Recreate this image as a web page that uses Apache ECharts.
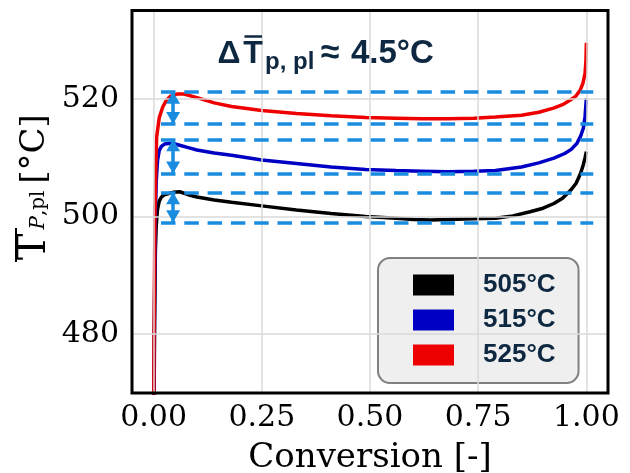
<!DOCTYPE html>
<html>
<head>
<meta charset="utf-8">
<script src="https://cdn.jsdelivr.net/npm/echarts@6/dist/echarts.min.js"></script>
<style>
  html, body { margin: 0; padding: 0; background: #ffffff; }
  #chart { width: 630px; height: 473px; }
</style>
</head>
<body>
<div id="chart"></div>
<script>
// Mean particle temperature over conversion for three set-point temperatures

const seriesNames = ['505°C', '515°C', '525°C'];
const seriesColors = ['#000000', '#0000c4', '#ee0000'];

// 505 °C run
const conv505 = [0.000, 0.002, 0.004, 0.006, 0.009, 0.013, 0.018, 0.025, 0.035, 0.045, 0.060, 0.080,
  0.100, 0.140, 0.180, 0.250, 0.330, 0.410, 0.490, 0.560, 0.600, 0.640, 0.680, 0.740, 0.790,
  0.830, 0.870, 0.900, 0.925, 0.945, 0.963, 0.976, 0.986, 0.993, 0.997, 1.000];
const temp505 = [455.0, 480.0, 494.0, 498.5, 501.2, 502.6, 503.3, 503.7, 503.9, 504.1, 504.2, 503.7,
  503.3, 502.8, 502.4, 501.8, 501.1, 500.5, 500.0, 499.7, 499.5, 499.4, 499.5, 499.6, 499.7,
  500.1, 500.8, 501.4, 502.2, 503.1, 504.4, 505.6, 507.2, 508.8, 510.0, 511.0];

// 515 °C run
const conv515 = [0.000, 0.002, 0.004, 0.006, 0.009, 0.013, 0.018, 0.025, 0.035, 0.045, 0.060, 0.080,
  0.100, 0.140, 0.180, 0.250, 0.330, 0.410, 0.490, 0.560, 0.620, 0.680, 0.740, 0.790, 0.850,
  0.890, 0.925, 0.950, 0.965, 0.978, 0.987, 0.993, 0.997, 1.000];
const temp515 = [455.0, 485.0, 500.0, 506.0, 509.5, 511.2, 511.9, 512.3, 512.4, 512.4, 512.1, 511.7,
  511.3, 510.8, 510.4, 509.6, 509.0, 508.4, 508.0, 507.8, 507.7, 507.6, 507.7, 507.8, 508.4,
  509.1, 509.9, 510.7, 511.4, 512.4, 513.7, 515.0, 517.0, 520.1];

// 525 °C run
const conv525 = [0.000, 0.001, 0.003, 0.005, 0.007, 0.013, 0.021, 0.030, 0.040, 0.055, 0.070, 0.100,
  0.140, 0.180, 0.250, 0.330, 0.410, 0.490, 0.560, 0.620, 0.680, 0.740, 0.790, 0.850, 0.890,
  0.924, 0.945, 0.963, 0.975, 0.986, 0.992, 0.997, 0.999, 1.000];
const temp525 = [455.0, 480.0, 500.0, 508.0, 513.5, 516.8, 518.6, 519.8, 520.5, 520.8, 520.8, 520.2,
  519.3, 518.7, 518.0, 517.5, 517.1, 516.8, 516.7, 516.6, 516.6, 516.7, 516.9, 517.2, 517.7,
  518.4, 519.0, 519.8, 520.4, 521.5, 522.6, 524.3, 526.5, 529.5];

const convData = [conv505, conv515, conv525];
const tempData = [temp505, temp515, temp525];

// Axis ticks
const xTicks = [0, 0.25, 0.5, 0.75, 1.0];
const yTicks = [480, 500, 520];

// Dashed reference levels (upper / lower bound of each plateau) and the spread arrows
const refLevels = [521.2, 515.7, 513.1, 507.3, 504.1, 499.0];
const refFrom = 0.017;
const refTo = 1.016;
const spreadAt = 0.045;

const navy = '#0e2841';
const refBlue = '#1a8ce0';
const serif = '"DejaVu Serif", serif';
const sans = '"Liberation Sans", Arial, sans-serif';

function pairs(xs, ys) {
  return xs.map((x, i) => [x, ys[i]]);
}
function isTick(list, v) {
  return list.some(t => Math.abs(t - v) < 1e-6);
}

const curveSeries = seriesNames.map((name, i) => ({
  name: name,
  type: 'line',
  data: pairs(convData[i], tempData[i]),
  showSymbol: false,
  symbol: 'none',
  clip: true,
  z: 3,
  lineStyle: { color: seriesColors[i], width: 3.5 },
  itemStyle: { color: seriesColors[i] },
  emphasis: { disabled: true }
}));

const spreadPairs = [];
for (let k = 0; k < refLevels.length; k += 2) {
  spreadPairs.push([{ coord: [spreadAt, refLevels[k]] }, { coord: [spreadAt, refLevels[k + 1]] }]);
}

const option = {
  animation: false,
  backgroundColor: '#ffffff',
  grid: {
    left: 132, top: 10.5, width: 476, height: 382.5,
    outerBoundsMode: 'none',
    containLabel: false,
    show: true, z: 10,
    borderColor: '#000000', borderWidth: 3,
    backgroundColor: 'transparent'
  },
  xAxis: {
    type: 'value',
    min: -0.05, max: 1.05, interval: 0.05,
    axisLine: { show: false },
    axisTick: { show: false },
    splitLine: { show: false },
    axisLabel: {
      formatter: v => (isTick(xTicks, v) ? v.toFixed(2) : ''),
      fontFamily: serif, fontSize: 30, color: '#000000', margin: 10
    },
    name: 'Conversion [-]',
    nameLocation: 'middle',
    nameGap: 48,
    nameTextStyle: { fontFamily: serif, fontSize: 34, color: '#000000' }
  },
  yAxis: {
    type: 'value',
    min: 470, max: 535, interval: 10,
    axisLine: { show: false },
    axisTick: { show: false },
    splitLine: { show: false },
    axisLabel: {
      formatter: v => (isTick(yTicks, v) ? String(v) : ''),
      fontFamily: serif, fontSize: 30, color: '#000000', margin: 13
    }
  },
  legend: {
    data: seriesNames,
    orient: 'vertical',
    left: 378, top: 258,
    padding: [14, 23, 15, 35],
    itemWidth: 41, itemHeight: 21, itemGap: 9,
    icon: 'rect',
    itemStyle: { borderWidth: 0 },
    selectedMode: false,
    backgroundColor: '#efefef',
    borderColor: '#808080', borderWidth: 2, borderRadius: 12,
    textStyle: {
      fontFamily: sans, fontWeight: 'bold', fontSize: 26, color: navy,
      lineHeight: 21, padding: [0, 0, 0, 24]
    }
  },
  series: [
    {
      type: 'line', data: [], z: 1, silent: true,
      markLine: {
        silent: true, symbol: 'none', animation: false,
        label: { show: false },
        lineStyle: { color: '#dadada', width: 1.5, type: 'solid' },
        data: xTicks.map(v => ({ xAxis: v })).concat(yTicks.map(v => ({ yAxis: v })))
      }
    },
    ...curveSeries,
    {
      type: 'line', data: [], z: 5, silent: true,
      markLine: {
        silent: true, symbol: 'none', animation: false,
        label: { show: false },
        lineStyle: { color: refBlue, width: 3.5, type: [14.5, 8.8], opacity: 1 },
        data: refLevels.map(v => [{ coord: [refFrom, v] }, { coord: [refTo, v] }])
      }
    },
    {
      type: 'line', data: [], z: 6, silent: true,
      markLine: {
        silent: true, animation: false,
        symbol: ['triangle', 'triangle'],
        symbolSize: [14, 12],
        symbolOffset: [[0, 6], [0, 6]],
        label: { show: false },
        itemStyle: { color: refBlue },
        lineStyle: { color: refBlue, width: 3.5, type: 'solid', opacity: 1 },
        data: spreadPairs
      }
    }
  ],
  graphic: [
    // y-axis title: T with overline, subscript P,pl, unit
    { type: 'text', x: 35, y: 247, rotation: Math.PI / 2,
      style: { text: 'T', font: '40px ' + serif, fill: '#000000', textAlign: 'center', verticalAlign: 'middle' } },
    { type: 'line', shape: { x1: 16, y1: 228, x2: 16, y2: 262 },
      style: { stroke: '#000000', lineWidth: 2 } },
    { type: 'text', x: 39, y: 210, rotation: Math.PI / 2,
      style: {
        text: '{i|P}{n|,pl}', textAlign: 'center', verticalAlign: 'middle', fill: '#000000',
        rich: {
          i: { fontFamily: serif, fontStyle: 'italic', fontSize: 20, fill: '#000000' },
          n: { fontFamily: serif, fontSize: 20, fill: '#000000' }
        }
      } },
    { type: 'text', x: 35, y: 149, rotation: Math.PI / 2,
      style: { text: '[°C]', font: '34px ' + serif, fill: '#000000', textAlign: 'center', verticalAlign: 'middle' } },

    // spread annotation inside the plot
    { type: 'text', x: 229, y: 54, z: 20,
      style: { text: 'Δ', font: 'bold 32px ' + sans, fill: navy, textAlign: 'center', verticalAlign: 'middle' } },
    { type: 'text', x: 253, y: 54, z: 20,
      style: { text: 'T', font: 'bold 32px ' + sans, fill: navy, textAlign: 'center', verticalAlign: 'middle' } },
    { type: 'line', z: 20, shape: { x1: 244.5, y1: 36.5, x2: 262, y2: 36.5 },
      style: { stroke: navy, lineWidth: 2.5 } },
    { type: 'text', x: 265, y: 62, z: 20,
      style: { text: 'p, pl', font: 'bold 24px ' + sans, fill: navy, textAlign: 'left', verticalAlign: 'middle' } },
    { type: 'text', x: 330, y: 54, z: 20,
      style: { text: '≈', font: 'bold 34px ' + sans, fill: navy, textAlign: 'center', verticalAlign: 'middle' } },
    { type: 'text', x: 351, y: 54, z: 20,
      style: { text: '4.5°C', font: 'bold 33px ' + sans, fill: navy, textAlign: 'left', verticalAlign: 'middle' } }
  ]
};

const chart = echarts.init(document.getElementById('chart'), null, { renderer: 'canvas' });
chart.setOption(option);
</script>
</body>
</html>
